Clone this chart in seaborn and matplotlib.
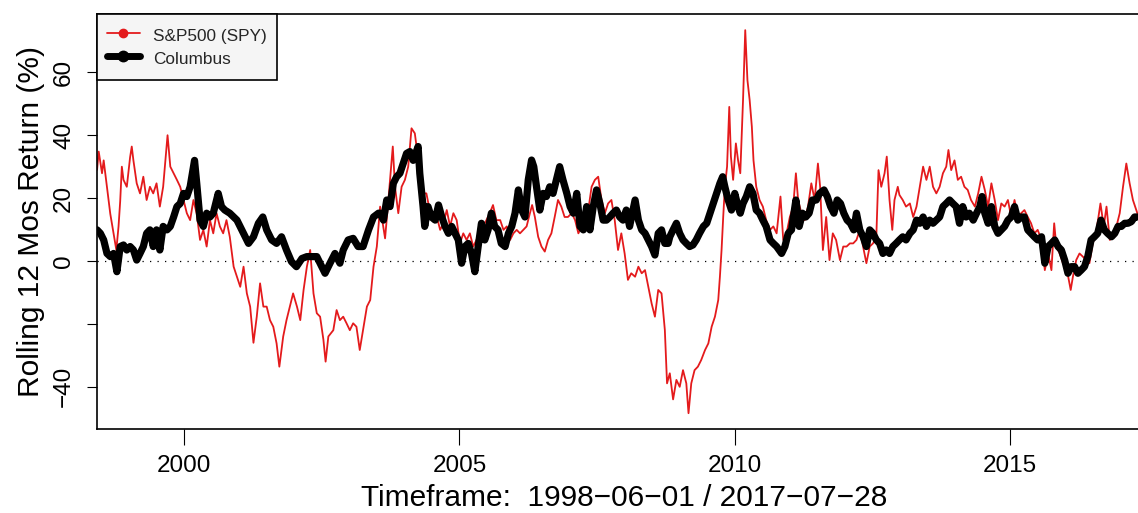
import numpy as np
import pandas as pd
import matplotlib
matplotlib.use('Agg')
import matplotlib.pyplot as plt
from matplotlib.lines import Line2D
import seaborn as sns

# dates as decimal years, values in %
spy_years = [
    1998.42, 1998.45, 1998.51, 1998.54, 1998.60, 1998.66, 1998.72, 1998.77, 1998.81, 1998.84,
    1998.87, 1998.90, 1998.96, 1999.02, 1999.05, 1999.08, 1999.14, 1999.20, 1999.26, 1999.32,
    1999.38, 1999.44, 1999.50, 1999.56, 1999.62, 1999.70, 1999.75, 1999.81, 1999.87, 1999.93,
    1999.99, 2000.05, 2000.11, 2000.17, 2000.23, 2000.29, 2000.35, 2000.41, 2000.47, 2000.53,
    2000.59, 2000.65, 2000.71, 2000.77, 2000.83, 2000.90, 2000.96, 2001.02, 2001.08, 2001.14,
    2001.20, 2001.26, 2001.32, 2001.38, 2001.44, 2001.50, 2001.56, 2001.62, 2001.68, 2001.73,
    2001.80, 2001.86, 2001.92, 2001.98, 2002.05, 2002.11, 2002.17, 2002.23, 2002.29, 2002.35,
    2002.41, 2002.47, 2002.53, 2002.57, 2002.62, 2002.71, 2002.77, 2002.83, 2002.89, 2002.95,
    2003.01, 2003.07, 2003.13, 2003.19, 2003.25, 2003.32, 2003.38, 2003.44, 2003.50,
    2003.56, 2003.65, 2003.71, 2003.79, 2003.83, 2003.89, 2003.95, 2004.01, 2004.07, 2004.13,
    2004.19, 2004.23, 2004.28, 2004.34, 2004.40, 2004.46, 2004.52, 2004.59, 2004.65, 2004.71,
    2004.77, 2004.83, 2004.89, 2004.95, 2005.01, 2005.07, 2005.13, 2005.19, 2005.25, 2005.31,
    2005.37, 2005.43, 2005.49, 2005.55, 2005.61, 2005.67, 2005.74, 2005.80, 2005.86, 2005.92,
    2005.98, 2006.04, 2006.10, 2006.16, 2006.22, 2006.28, 2006.32, 2006.37, 2006.43, 2006.49,
    2006.55, 2006.61, 2006.67, 2006.73, 2006.79, 2006.85, 2006.91, 2006.97, 2007.04, 2007.10,
    2007.16, 2007.22, 2007.28, 2007.34, 2007.40, 2007.46, 2007.52, 2007.58, 2007.64, 2007.70,
    2007.76, 2007.82, 2007.88, 2007.94, 2008.00, 2008.06, 2008.12, 2008.19, 2008.25, 2008.31,
    2008.37, 2008.43, 2008.49, 2008.55, 2008.61, 2008.67, 2008.73, 2008.77, 2008.82,
    2008.88, 2008.94, 2009.00, 2009.06, 2009.12, 2009.16, 2009.21, 2009.27, 2009.33, 2009.39,
    2009.46, 2009.52, 2009.58, 2009.64, 2009.70, 2009.73, 2009.76, 2009.79, 2009.82, 2009.86,
    2009.90, 2009.93, 2009.97, 2010.02, 2010.06, 2010.10, 2010.15, 2010.19, 2010.23, 2010.27,
    2010.31, 2010.34, 2010.39, 2010.45, 2010.51, 2010.57, 2010.64, 2010.70, 2010.76, 2010.83,
    2010.88, 2010.94, 2011.00, 2011.06, 2011.11, 2011.15, 2011.21, 2011.27, 2011.33, 2011.39,
    2011.45, 2011.51, 2011.55, 2011.60, 2011.66, 2011.72, 2011.78, 2011.84, 2011.91, 2011.97,
    2012.03, 2012.09, 2012.15, 2012.21, 2012.27, 2012.33, 2012.39, 2012.45, 2012.51, 2012.57,
    2012.61, 2012.66, 2012.72, 2012.76, 2012.81, 2012.86, 2012.90, 2012.96,
    2012.99, 2013.05, 2013.11, 2013.18, 2013.24, 2013.30, 2013.36, 2013.42, 2013.48, 2013.54,
    2013.60, 2013.66, 2013.72, 2013.78, 2013.84, 2013.88, 2013.93, 2013.99, 2014.05, 2014.11,
    2014.17, 2014.23, 2014.29, 2014.36, 2014.42, 2014.48, 2014.54, 2014.60, 2014.66, 2014.72,
    2014.78, 2014.84, 2014.90, 2014.96, 2015.02, 2015.08, 2015.14, 2015.20, 2015.26, 2015.32,
    2015.38, 2015.44, 2015.50, 2015.57, 2015.63, 2015.69, 2015.75, 2015.80, 2015.84, 2015.90,
    2015.96, 2016.02, 2016.10, 2016.14, 2016.20, 2016.26, 2016.32, 2016.38, 2016.44, 2016.50,
    2016.56, 2016.64, 2016.70, 2016.75, 2016.81, 2016.87, 2016.93, 2016.99, 2017.05, 2017.11,
    2017.17, 2017.23, 2017.31,
]
spy_values = [
    29, 34.8, 27.9, 32, 23.6, 15, 8.8, 3.5, 11, 19,
    30, 25.8, 23.6, 33, 36.4, 32, 24.7, 21.5, 26.8, 19.4,
    23.6, 21.5, 24.7, 17.3, 23.6, 40, 30, 27.9, 25.8, 23.6,
    19.4, 15.2, 13, 19.4, 15, 6.7, 9.9, 4.6, 13, 8.8,
    15.2, 11, 8.8, 13, 7.7, -1.8, -5, -8.2, -1.8, -10.3,
    -14.5, -26, -17.7, -7.1, -14.5, -14.5, -18.8, -20.9, -26.2, -33.6,
    -24, -18.8, -14.5, -10.3, -14.5, -18.8, -9.2, -1.8, 3.5, -10.3,
    -16.6, -17.7, -25, -32, -24, -22, -15.6, -18.8, -17.7, -19.8,
    -22, -19.8, -20.9, -28.3, -22, -14.5, -12.4, -1.8, 4.6,
    17.3, 7.2, 19.4, 36.4, 23.6, 15.2, 23.6, 25.8, 30, 42.2,
    40.6, 35.3, 30, 21.5, 21.5, 16.2, 13, 14, 9.9, 12,
    16.2, 11, 15.2, 13, 5.6, 8.8, 6.7, 8.8, 4.6, 6.7,
    8.8, 11, 13, 15.2, 17.8, 13, 13, 9.9, 11, 6.7,
    8.8, 9.9, 8.8, 9.9, 11, 15.2, 17.8, 14, 7.7, 4.6,
    3, 6.7, 8.8, 14, 19.4, 17.3, 14, 14, 15.2, 13,
    8.8, 11, 14, 16.2, 23.6, 25.8, 26.8, 19.4, 15.2, 18.3,
    19.4, 13, 3.5, 8.8, 2.4, -6, -3.9, -5, -1.8, -3.9,
    -2.9, -8.2, -13.5, -17.7, -9.2, -10.3, -21.9, -38.9, -35.7,
    -44, -37.8, -40, -34.7, -38.9, -48.4, -38.9, -34.7, -33.6, -31.5,
    -28.3, -26.2, -20.9, -17.7, -12.4, -5, 3.5, 14, 23.6, 30,
    49, 33.2, 25.8, 37.4, 32, 27.9, 51.2, 73.4, 57.5, 51.2,
    42.7, 32, 23.6, 19.4, 17.3, 13, 9.9, 11, 8.8, 20.5,
    6.7, 8.8, 14, 17.3, 27.9, 19.4, 15.2, 13, 17.3, 24.7,
    19.4, 31, 23.6, 3.5, 14, 0.3, 8.8, 6.7, 0.3, 4.6,
    4.6, 5.6, 5.6, 6.7, 9.9, 4.6, -0.7, 4.6, 5.6, 7.7,
    28.9, 23.6, 27.9, 33.2, 19.4, 9.9, 19.4, 23.6,
    21, 19.4, 17.3, 18.3, 14, 17.3, 23.6, 30, 25.8, 30,
    23.6, 21.5, 23.6, 27.9, 30, 35.3, 28.9, 32, 25.8, 26.8,
    23.6, 22.6, 19.4, 17.3, 21.5, 26.8, 22.6, 17.3, 24.7, 19.4,
    13, 18.3, 17.3, 19.4, 14, 19.4, 14, 15.2, 16.2, 14,
    12, 8.8, 9.9, 6.7, -2.9, 2.4, -2.9, 12, 4.6, 2.4,
    -0.7, -1.8, -9.2, -5, 0.3, 2.4, 1.4, 0.3, -0.7, 5.6,
    8.8, 18.3, 11, 17.3, 6.7, 8.8, 11, 15.2, 23.6, 31,
    24.7, 19.4, 15.2,
]

col_years = [
    1998.42, 1998.48, 1998.54, 1998.60, 1998.66, 1998.72, 1998.78, 1998.84, 1998.90, 1998.96,
    1999.02, 1999.08, 1999.14, 1999.20, 1999.26, 1999.32, 1999.38, 1999.44, 1999.50, 1999.56,
    1999.62, 1999.69, 1999.75, 1999.81, 1999.87, 1999.93, 1999.99, 2000.05, 2000.11, 2000.19,
    2000.23, 2000.29, 2000.35, 2000.41, 2000.47, 2000.53, 2000.62, 2000.68, 2000.74, 2000.83,
    2000.96, 2001.08, 2001.17, 2001.26, 2001.35, 2001.43, 2001.50, 2001.59, 2001.68, 2001.77,
    2001.86, 2001.95, 2002.04, 2002.14, 2002.23, 2002.32, 2002.41, 2002.47, 2002.56, 2002.65,
    2002.74, 2002.83, 2002.89, 2002.98, 2003.07, 2003.16, 2003.25, 2003.35, 2003.44, 2003.53,
    2003.56, 2003.62, 2003.68, 2003.74, 2003.80, 2003.86, 2003.92, 2003.98, 2004.04, 2004.10,
    2004.16, 2004.25, 2004.28, 2004.34, 2004.37, 2004.43, 2004.49, 2004.56, 2004.62, 2004.68,
    2004.74, 2004.80, 2004.86, 2004.92, 2004.98, 2005.04, 2005.10, 2005.16, 2005.22, 2005.28,
    2005.34, 2005.40, 2005.46, 2005.52, 2005.58, 2005.64, 2005.70, 2005.76, 2005.83, 2005.89,
    2005.95, 2006.01, 2006.07, 2006.13, 2006.19, 2006.25, 2006.31, 2006.35, 2006.40, 2006.46,
    2006.52, 2006.58, 2006.64, 2006.70, 2006.76, 2006.82, 2006.88, 2006.95, 2007.01, 2007.07,
    2007.13, 2007.19, 2007.25, 2007.31, 2007.37, 2007.43, 2007.49, 2007.55, 2007.61, 2007.67,
    2007.73, 2007.79, 2007.85, 2007.91, 2007.97, 2008.03, 2008.09, 2008.19, 2008.25, 2008.31,
    2008.37, 2008.43, 2008.49, 2008.55, 2008.61, 2008.67, 2008.73, 2008.79,
    2008.82, 2008.88, 2008.94, 2009.00, 2009.06, 2009.12, 2009.18, 2009.24, 2009.30, 2009.36,
    2009.43, 2009.49, 2009.55, 2009.61, 2009.67, 2009.73, 2009.78, 2009.82, 2009.88, 2009.94,
    2010.00, 2010.06, 2010.10, 2010.15, 2010.21, 2010.27, 2010.33, 2010.39, 2010.45, 2010.51,
    2010.57, 2010.64, 2010.70, 2010.76, 2010.85, 2010.91, 2010.97, 2011.03, 2011.11, 2011.17,
    2011.23, 2011.29, 2011.35, 2011.41, 2011.48, 2011.54, 2011.62, 2011.68, 2011.74, 2011.80,
    2011.86, 2011.92, 2011.98, 2012.04, 2012.10, 2012.16, 2012.21, 2012.27, 2012.33, 2012.39,
    2012.45, 2012.51, 2012.57, 2012.63, 2012.69, 2012.75, 2012.81, 2012.87, 2012.93,
    2012.99, 2013.05, 2013.11, 2013.18, 2013.24, 2013.30, 2013.36, 2013.42, 2013.48, 2013.54,
    2013.60, 2013.66, 2013.72, 2013.78, 2013.84, 2013.90, 2013.96, 2014.02, 2014.08, 2014.14,
    2014.20, 2014.26, 2014.33, 2014.39, 2014.45, 2014.49, 2014.54, 2014.60, 2014.66, 2014.72,
    2014.78, 2014.84, 2014.90, 2014.96, 2015.02, 2015.08, 2015.14, 2015.20, 2015.26, 2015.32,
    2015.38, 2015.44, 2015.50, 2015.57, 2015.63, 2015.69, 2015.75, 2015.81, 2015.87, 2015.93,
    2015.99, 2016.05, 2016.11, 2016.17, 2016.23, 2016.29, 2016.35, 2016.41, 2016.47, 2016.53,
    2016.59, 2016.65, 2016.71, 2016.77, 2016.84, 2016.90, 2016.96, 2017.02, 2017.08, 2017.14,
    2017.20, 2017.26, 2017.31,
]
col_values = [
    9.9, 8.8, 6.7, 2.4, 1.4, 2.4, -3.4, 4.6, 5.1, 3.5,
    4.6, 3.5, 0.3, 2.4, 4.6, 8.8, 9.9, 4.6, 9.9, 3.5,
    11, 9.9, 11, 14, 17.3, 18.3, 21.5, 20.5, 23.6, 32,
    24.7, 13, 11, 15.2, 14, 15.2, 21.5, 17.3, 16.2, 15.2,
    13, 8.8, 5.6, 7.7, 12, 14, 9.9, 6.7, 5.6, 7.7,
    3.5, -0.2, -1.8, 0.8, 1.4, 1.4, 1.4, -0.7, -3.9, -0.7,
    2.4, -0.7, 3.5, 6.7, 7.2, 4.6, 4.6, 9.9, 14, 15.2,
    15.2, 13, 19.4, 17.3, 24.7, 26.8, 27.9, 31, 34.2, 34.8,
    32, 36.4, 27.9, 17.3, 11, 17.3, 14, 13, 17.8, 14,
    11, 8.8, 11, 8.8, 6.7, -0.7, 4.6, 5.6, 2.4, -3.4,
    4.6, 12, 6.7, 9.9, 15.2, 11, 9.9, 5.6, 4.6, 8.8,
    11, 15.2, 22.6, 16.2, 14, 25.8, 32.1, 30, 23.6, 16.2,
    21.5, 20.5, 23.6, 21.5, 25.8, 30, 25.8, 21.5, 17.3, 15.2,
    21.5, 11, 9.9, 17.3, 9.9, 17.3, 22.6, 18.3, 13, 13,
    14, 15.2, 16.2, 14, 13, 16.2, 11, 19.4, 13, 9.9,
    8.8, 6.7, 4.6, 1.9, 8.8, 9.9, 5.6, 5.6,
    7.7, 9.9, 12, 8.8, 6.7, 5.6, 4.6, 5.1, 6.7, 8.8,
    11, 12, 15.2, 18.3, 21.5, 24.7, 26.8, 23.6, 19.4, 16.2,
    21.5, 17.3, 15.2, 18.3, 20.5, 23.6, 21.5, 16.2, 15.2, 13,
    11, 6.7, 5.6, 4.6, 2.4, 4.6, 8.8, 9.9, 19.4, 11,
    15.2, 14, 15.2, 19.4, 19.4, 21.5, 22.6, 20.5, 17.3, 15.2,
    19.4, 18.3, 15.2, 13, 12, 9.9, 15.2, 9.9, 7.7, 4.6,
    9.9, 8.8, 6.7, 5.6, 2.4, 3.5, 2.4, 4.6, 5.6,
    6.7, 7.7, 6.7, 8.8, 9.9, 13, 12, 14, 11, 13,
    12, 13, 14, 17.3, 18.3, 19.4, 18.3, 17.3, 12, 17.3,
    14, 15.2, 13, 15.2, 17.3, 20.5, 15.2, 12, 17.3, 11,
    8.8, 9.9, 11, 13, 14, 17.3, 13, 14, 14, 9.9,
    8.8, 7.7, 6.7, 7.7, -0.7, 4.6, 5.6, 6.7, 4.6, 3.5,
    0.3, -3.9, -1.8, -1.8, -3.9, -2.9, -1.8, 1.4, 6.7, 7.7,
    8.8, 13, 9.9, 8.8, 7.7, 8.8, 11, 11, 12, 12,
    12.5, 14, 14,
]

series_names = ['S&P500 (SPY)', 'Columbus']
series_colors = ['#E41A1C', '#000000']
x_start, x_end = 1998.414, 2017.570   # 1998-06-01 / 2017-07-28
x_ticks = [2000, 2005, 2010, 2015]
y_ticks = [-40, -20, 0, 20, 40, 60]
y_ticklabels = ['\u221240', '', '0', '20', '40', '60']

sns.set_theme(style='white')
plt.rcParams['font.family'] = ['Liberation Sans', 'DejaVu Sans']
plt.rcParams['axes.unicode_minus'] = True

fig = plt.figure(figsize=(11.38, 5.13), dpi=100)
ax = fig.add_axes([0.0850, 0.1637, 0.927, 0.8084])

spy = pd.DataFrame({'t': spy_years, 'v': spy_values})
col = pd.DataFrame({'t': col_years, 'v': col_values})

sns.lineplot(data=spy, x='t', y='v', ax=ax, color=series_colors[0], lw=1.3,
             estimator=None, sort=False, zorder=2)
sns.lineplot(data=col, x='t', y='v', ax=ax, color=series_colors[1], lw=5.2,
             estimator=None, sort=False, zorder=3, solid_joinstyle='round',
             solid_capstyle='round')
ax.axhline(0, color='black', lw=0.9, ls=(0, (1, 5)), zorder=1)

ax.set_xlim(x_start, x_end)
ax.set_ylim(-53.42, 78.44)
ax.set_xticks(x_ticks)
ax.set_xticklabels([str(t) for t in x_ticks])
ax.set_yticks(y_ticks)
ax.set_yticklabels(y_ticklabels, rotation=90, va='center')

ax.tick_params(axis='x', direction='out', length=11.5, width=0.8, pad=7,
               labelsize=17.5, colors='black', bottom=True)
ax.tick_params(axis='y', direction='out', length=7.5, width=0.8, pad=8,
               labelsize=17.5, colors='black', left=True)
for s in ax.spines.values():
    s.set_color('black')
    s.set_linewidth(1.2)

ax.set_xlabel('Timeframe:  1998\u221206\u221201 / 2017\u221207\u221228',
              fontsize=21.5, color='black', labelpad=5)
ax.set_ylabel('Rolling 12 Mos Return (%)', fontsize=21.5, color='black',
              labelpad=6)

handles = [
    Line2D([], [], color=series_colors[0], lw=1.3, marker='o', markersize=6),
    Line2D([], [], color=series_colors[1], lw=5, marker='o', markersize=7.5),
]
leg = ax.legend(handles, series_names, loc='upper left', bbox_to_anchor=(0, 1),
                borderaxespad=0, fancybox=False, frameon=True, fontsize=12.4,
                handlelength=1.9, handletextpad=0.75, borderpad=0.6,
                handleheight=1.6, labelspacing=0.05,
                facecolor='#f5f5f5', framealpha=1)
leg.get_frame().set_edgecolor('black')
leg.get_frame().set_linewidth(1.2)

fig.savefig('out.png', dpi=100)
